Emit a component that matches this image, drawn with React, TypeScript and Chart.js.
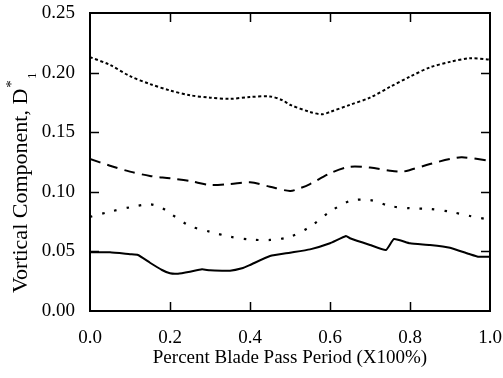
import React, { useEffect, useRef } from "react";
import { Chart, registerables } from "chart.js";

Chart.register(...registerables);

// ---- data ----
const xTicks = [0, 0.2, 0.4, 0.6, 0.8, 1.0];
const yTicks = [0, 0.05, 0.1, 0.15, 0.2, 0.25];

const topX = [0, 0.05, 0.1, 0.15, 0.2, 0.25, 0.3, 0.35, 0.4, 0.45, 0.48, 0.5, 0.55, 0.58, 0.6, 0.65, 0.7, 0.75, 0.8, 0.85, 0.9, 0.95, 1.0];
const topY = [0.213, 0.2064, 0.197, 0.1904, 0.185, 0.181, 0.179, 0.178, 0.1795, 0.18, 0.177, 0.173, 0.167, 0.165, 0.167, 0.173, 0.179, 0.188, 0.1966, 0.2044, 0.209, 0.212, 0.211];

const dashX = [0, 0.05, 0.1, 0.15, 0.2, 0.25, 0.3, 0.35, 0.4, 0.45, 0.5, 0.525, 0.55, 0.6, 0.65, 0.7, 0.75, 0.78, 0.8, 0.85, 0.9, 0.93, 1.0];
const dashY = [0.1275, 0.1219, 0.1169, 0.1133, 0.1113, 0.109, 0.1057, 0.1065, 0.108, 0.1043, 0.1007, 0.103, 0.1065, 0.1155, 0.121, 0.1203, 0.1177, 0.1169, 0.1183, 0.1233, 0.1275, 0.129, 0.126];

const dotX = [0, 0.05, 0.1, 0.15, 0.18, 0.2, 0.25, 0.3, 0.35, 0.4, 0.45, 0.5, 0.55, 0.6, 0.65, 0.7, 0.75, 0.8, 0.85, 0.9, 0.95, 1.0];
const dotY = [0.079, 0.0833, 0.087, 0.0895, 0.0864, 0.082, 0.0713, 0.0665, 0.0623, 0.06, 0.0596, 0.0623, 0.0707, 0.0833, 0.0923, 0.0931, 0.0881, 0.0862, 0.0856, 0.0833, 0.0797, 0.0765];

const solidX = [0, 0.05, 0.1, 0.12, 0.15, 0.18, 0.2, 0.22, 0.25, 0.28, 0.3, 0.35, 0.38, 0.4, 0.45, 0.5, 0.55, 0.6, 0.64, 0.65, 0.7, 0.74, 0.76, 0.8, 0.85, 0.9, 0.95, 0.97, 1.0];
const solidY = [0.0492, 0.0492, 0.0476, 0.047, 0.0405, 0.0344, 0.0316, 0.0313, 0.033, 0.035, 0.0341, 0.0338, 0.0358, 0.0386, 0.0461, 0.0489, 0.0517, 0.0568, 0.0629, 0.061, 0.0554, 0.0512, 0.0604, 0.0568, 0.0554, 0.0531, 0.0476, 0.0456, 0.0456];

const xTitle = "Percent Blade Pass Period (X100%)";
const yTitleMain = "Vortical Component, D";
const yTitleSup = "*";
const yTitleSub = "1";

const FONT = "'Liberation Serif', 'Times New Roman', serif";

const pts = (xs: number[], ys: number[]) => xs.map((x, i) => ({ x, y: ys[i] }));

const framePlugin = {
  id: "frame",
  afterDraw(chart: any) {
    const { ctx, chartArea } = chart;
    const { left, right, top, bottom } = chartArea;
    const xs = chart.scales.x;
    const ys = chart.scales.y;
    ctx.save();
    ctx.strokeStyle = "#000";
    ctx.lineWidth = 2;
    ctx.strokeRect(left, top, right - left, bottom - top);
    ctx.lineWidth = 1.5;
    const tl = 9;
    ctx.beginPath();
    xTicks.slice(1, -1).forEach((v) => {
      const px = Math.round(xs.getPixelForValue(v)) + 0.5;
      ctx.moveTo(px, bottom);
      ctx.lineTo(px, bottom - tl);
      ctx.moveTo(px, top);
      ctx.lineTo(px, top + tl);
    });
    yTicks.slice(1, -1).forEach((v) => {
      const py = Math.round(ys.getPixelForValue(v)) + 0.5;
      ctx.moveTo(left, py);
      ctx.lineTo(left + tl, py);
      ctx.moveTo(right, py);
      ctx.lineTo(right - tl, py);
    });
    ctx.stroke();

    // y axis title with super/subscript
    ctx.fillStyle = "#000";
    ctx.translate(26.5, 293);
    ctx.rotate(-Math.PI / 2);
    ctx.textBaseline = "alphabetic";
    ctx.textAlign = "left";
    ctx.font = `22px ${FONT}`;
    ctx.fillText(yTitleMain, 0, 0);
    const w = ctx.measureText(yTitleMain).width;
    ctx.font = `15px ${FONT}`;
    ctx.fillText(yTitleSup, w + 1, -11);
    ctx.font = `12px ${FONT}`;
    ctx.fillText(yTitleSub, w + 10, 9);
    ctx.restore();
  },
};

export default function App() {
  const ref = useRef<HTMLCanvasElement | null>(null);
  useEffect(() => {
    if (!ref.current) return;
    const common = { fill: false, pointRadius: 0, borderColor: "#000", backgroundColor: "#000" };
    const chart = new Chart(ref.current, {
      type: "line",
      data: {
        datasets: [
          { ...common, data: pts(topX, topY), borderWidth: 2, borderDash: [3, 2.5], tension: 0.3 },
          { ...common, data: pts(dashX, dashY), borderWidth: 2, borderDash: [11, 7], tension: 0.3 },
          { ...common, data: pts(dotX, dotY), borderWidth: 2.2, borderDash: [2.5, 10], tension: 0.3 },
          { ...common, data: pts(solidX, solidY), borderWidth: 2, tension: 0.15 },
        ] as any,
      },
      options: {
        responsive: false,
        animation: false,
        devicePixelRatio: 1,
        layout: { padding: { top: 13, right: 13, left: 0, bottom: 0 } },
        plugins: { legend: { display: false }, tooltip: { enabled: false }, title: { display: false } },
        scales: {
          x: {
            type: "linear",
            min: 0,
            max: 1,
            grid: { display: false, drawTicks: false },
            border: { display: false },
            ticks: {
              stepSize: 0.2,
              padding: 16,
              color: "#000",
              font: { family: FONT, size: 19 },
              maxRotation: 0,
              callback: (v: any) => Number(v).toFixed(1),
            },
            title: { display: true, text: xTitle, color: "#000", font: { family: FONT, size: 19 }, padding: { top: 0, bottom: 9 } },
            afterFit: (s: any) => { s.height = 67; s.paddingLeft = 0; s.paddingRight = 0; },
          },
          y: {
            type: "linear",
            min: 0,
            max: 0.25,
            grid: { display: false, drawTicks: false },
            border: { display: false },
            ticks: {
              stepSize: 0.05,
              padding: 15,
              color: "#000",
              font: { family: FONT, size: 19 },
              callback: (v: any) => Number(v).toFixed(2),
            },
            afterFit: (s: any) => { s.width = 90; s.paddingTop = 0; s.paddingBottom = 0; },
          },
        },
      },
      plugins: [framePlugin],
    });
    return () => chart.destroy();
  }, []);
  return (
    <div style={{ position: "fixed", left: 0, top: 0, width: 503, height: 378, background: "#fff" }}>
      <canvas ref={ref} width={503} height={378} style={{ display: "block" }} />
    </div>
  );
}
